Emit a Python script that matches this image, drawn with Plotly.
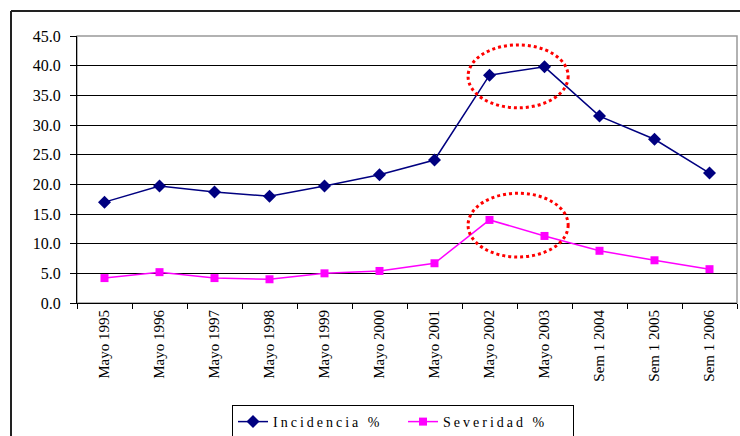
import plotly.graph_objects as go

categories = ["Mayo 1995", "Mayo 1996", "Mayo 1997", "Mayo 1998", "Mayo 1999", "Mayo 2000",
              "Mayo 2001", "Mayo 2002", "Mayo 2003", "Sem 1 2004", "Sem 1 2005", "Sem 1 2006"]
incidencia = [17.0, 19.7, 18.7, 18.0, 19.7, 21.6, 24.1, 38.4, 39.8, 31.5, 27.6, 21.9]
severidad = [4.2, 5.2, 4.2, 4.0, 5.0, 5.4, 6.7, 14.0, 11.3, 8.8, 7.2, 5.7]
y_ticks = [0, 5, 10, 15, 20, 25, 30, 35, 40, 45]

W, H = 740, 436
L, R, T, B = 77, 3, 36, 133
pw, ph = W - L - R, H - T - B

def px_x(x):
    return (x - L) / pw

def px_y(y):
    return (H - B - y) / ph

font_family = "Liberation Serif"

fig = go.Figure()
fig.add_trace(go.Scatter(x=categories, y=incidencia, name="Incidencia %", mode="lines+markers",
                         line=dict(color="#000080", width=1.5),
                         marker=dict(symbol="diamond", size=10, color="#000080")))
fig.add_trace(go.Scatter(x=categories, y=severidad, name="Severidad %", mode="lines+markers",
                         line=dict(color="#FF00FF", width=1.5),
                         marker=dict(symbol="square", size=8, color="#FF00FF")))

shapes = [
    dict(type="rect", xref="paper", yref="paper", x0=0, y0=0, x1=1, y1=1,
         line=dict(color="#999999", width=1.5), layer="below"),
    dict(type="line", xref="paper", yref="paper", x0=px_x(11), y0=px_y(11), x1=px_x(742), y1=px_y(11),
         line=dict(color="#222222", width=2)),
    dict(type="line", xref="paper", yref="paper", x0=px_x(11), y0=px_y(11), x1=px_x(11), y1=px_y(440),
         line=dict(color="#222222", width=2)),
    dict(type="circle", xref="x", yref="y", x0=6.61, x1=8.43, y0=32.9, y1=43.5,
         line=dict(color="#FF0000", width=3, dash="dot")),
    dict(type="circle", xref="x", yref="y", x0=6.61, x1=8.43, y0=7.75, y1=18.5,
         line=dict(color="#FF0000", width=3, dash="dot")),
]

fig.update_layout(
    width=W, height=H,
    margin=dict(l=L, r=R, t=T, b=B, autoexpand=False),
    paper_bgcolor="white", plot_bgcolor="white",
    font=dict(family=font_family, size=15, color="black"),
    shapes=shapes,
    showlegend=True,
    legend=dict(orientation="h", xref="paper", yref="paper",
                x=px_x(232), y=px_y(405), xanchor="left", yanchor="top",
                bordercolor="black", borderwidth=1, bgcolor="white",
                font=dict(family=font_family, size=14), entrywidth=125,
                tracegroupgap=0),
)
fig.update_xaxes(type="category", tickangle=-90, showgrid=False, automargin=False,
                 showline=True, linecolor="black", linewidth=1,
                 ticks="outside", tickson="boundaries", ticklen=5, tickcolor="black",
                 tickfont=dict(family=font_family, size=15), range=[-0.5, 11.5])
fig.update_yaxes(range=[0, 45], tickvals=y_ticks, tickformat=".1f", automargin=False,
                 showgrid=True, gridcolor="black", gridwidth=1,
                 showline=True, linecolor="black", linewidth=1,
                 ticks="outside", ticklen=6, tickcolor="black", zeroline=False,
                 ticklabelstandoff=6,
                 tickfont=dict(family=font_family, size=16))

post = ("document.body.style.margin='0px';document.body.style.overflow='hidden';"
        "document.querySelectorAll('.legendtext').forEach(function(e){e.style.letterSpacing='3px';});")
fig.write_html("out.html", config={"displayModeBar": False}, post_script=post)
